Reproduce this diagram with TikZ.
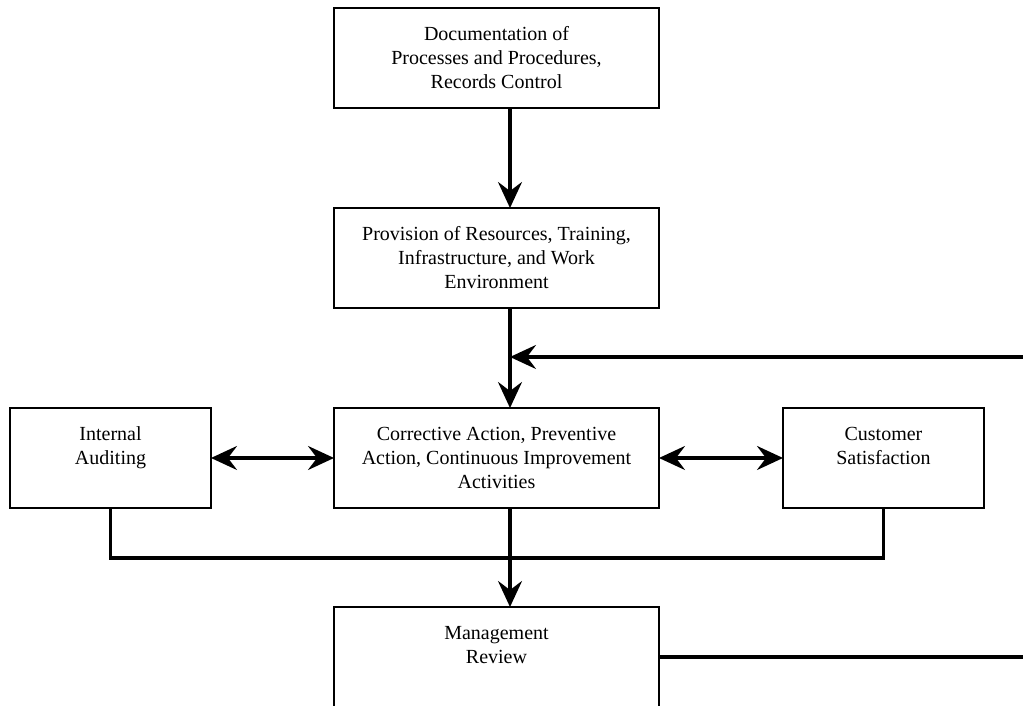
\documentclass[tikz,border=0pt]{standalone}
\usepackage{fontspec}
\setmainfont{Liberation Serif}
\usepackage{tikz}
\usetikzlibrary{arrows.meta,positioning,calc}

\begin{document}
\begin{tikzpicture}[x=1pt,y=1pt,
  box/.style={rectangle,draw,line width=1.6pt,align=center,
              font=\fontsize{20}{24}\selectfont,inner sep=0pt,outer sep=0pt,
              minimum height=100pt},
  wide/.style={box,minimum width=325pt},
  side/.style={box,minimum width=201pt},
  link/.style={line width=3.2pt},
  arr/.style={link,-{Stealth[length=26pt,width=24pt,inset=9pt]}},
  dbl/.style={link,{Stealth[length=26pt,width=24pt,inset=9pt]}-{Stealth[length=26pt,width=24pt,inset=9pt]}}
]
\useasboundingbox (0,0) rectangle (1023,706);

% Main column
\node[wide] (doc) at (496.5,648) {Documentation of\\Processes and Procedures,\\Records Control};
\node[wide,below=100pt of doc] (prov) {Provision of Resources, Training,\\Infrastructure, and Work\\Environment};
\node[wide,below=100pt of prov] (corr) {Corrective Action, Preventive\\Action, Continuous Improvement\\Activities};
\node[side,left=123pt of corr] (audit) {Internal\\Auditing\\\mbox{}};
\node[side,right=124pt of corr] (cust) {Customer\\Satisfaction\\\mbox{}};
\node[wide,below=99pt of corr] (mgmt) {Management\\Review\\\mbox{}};

\coordinate (axis) at (510,0);
\coordinate (fbin) at (1023,349);
\coordinate (fbout) at (1023,49);

\draw[arr] (doc.south -| axis) -- (prov.north -| axis);
\draw[arr] (prov.south -| axis) -- (corr.north -| axis);
\draw[arr] (fbin) -- (fbin -| axis);

% Side boxes
\draw[dbl] (audit) -- (corr);
\draw[dbl] (corr) -- (cust);
\draw[link] (audit.south) -- ++(0,-50) -| (cust.south);

% Review
\draw[arr] (corr.south -| axis) -- (mgmt.north -| axis);
\draw[link] (mgmt.east) -- (mgmt.east -| fbout);
\end{tikzpicture}
\end{document}
